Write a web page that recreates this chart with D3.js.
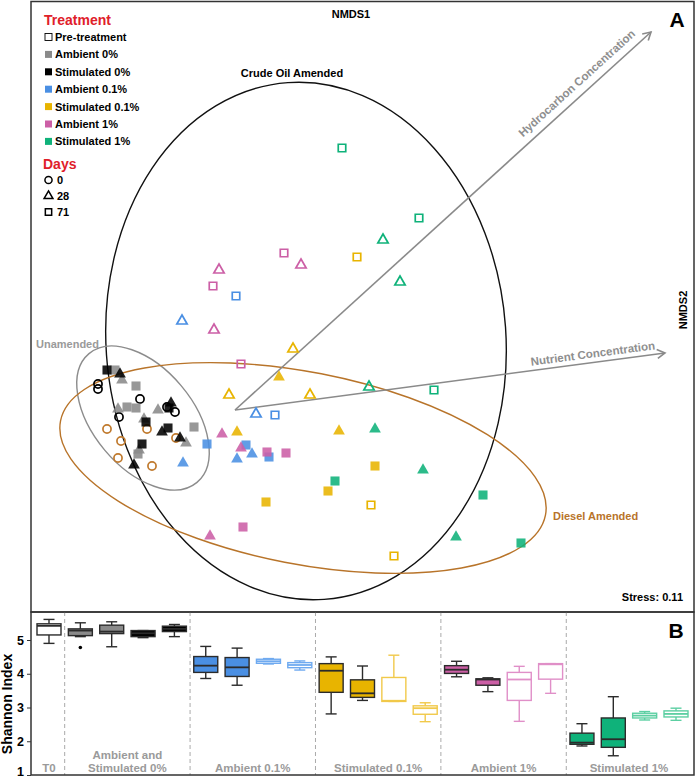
<!DOCTYPE html>
<html><head><meta charset="utf-8">
<script src="https://cdn.jsdelivr.net/npm/d3@7"></script>
<style>
body{margin:0;background:#fff}
svg{display:block;font-family:"Liberation Sans",Arial,Helvetica,sans-serif;font-weight:bold}
</style>
</head><body>
<svg id="chart" width="696" height="780"></svg>
<script>
// ---------------- DATA ----------------
const treatments = ["Pre-treatment","Ambient 0%","Stimulated 0%","Ambient 0.1%","Stimulated 0.1%","Ambient 1%","Stimulated 1%"];
const dayLevels = [0, 28, 71];

// NMDS points: [NMDS1, NMDS2, day, oil]
const preTreatment = [
  [-1.37,0.26,0,"crude"],[-1.37,0.21,0,"crude"],[-0.95,0.11,0,"crude"],
  [-1.16,-0.07,0,"crude"],[-0.68,0.03,0,"crude"],[-0.60,-0.02,0,"crude"],
  [-1.28,-0.19,0,"diesel"],[-0.88,-0.19,0,"diesel"],[-1.14,-0.31,0,"diesel"],
  [-0.59,-0.28,0,"diesel"],[-1.17,-0.48,0,"diesel"],[-0.83,-0.56,0,"diesel"]
];
const ambient0 = [
  [-1.20,0.40,71,"none"],[-0.99,0.24,71,"none"],[-1.08,0.03,71,"none"],
  [-0.99,0.02,71,"none"],[-0.41,-0.17,71,"none"],[-0.97,-0.44,71,"none"],
  [-1.13,0.30,28,"none"],[-1.17,0.01,28,"none"],[-0.77,0.00,28,"none"],
  [-0.91,-0.09,28,"none"],[-0.49,-0.33,28,"none"],[-0.96,-0.40,28,"none"]
];
const stimulated0 = [
  [-1.28,0.40,71,"none"],[-0.66,0.02,71,"none"],[-0.89,-0.12,71,"none"],
  [-0.67,-0.18,71,"none"],[-0.93,-0.34,71,"none"],
  [-1.15,0.36,28,"none"],[-0.64,0.07,28,"none"],[-0.73,-0.22,28,"none"],
  [-0.55,-0.28,28,"none"],[-1.01,-0.55,28,"none"]
];
const ambient01 = [
  [-0.28,-0.34,71,"diesel"],[0.11,-0.35,71,"diesel"],[0.34,-0.47,71,"diesel"],
  [-0.52,-0.53,28,"diesel"],[0.02,-0.49,28,"diesel"],[0.17,-0.44,28,"diesel"],
  [-0.53,0.89,28,"crude"],[0.21,-0.04,28,"crude"],
  [0.01,1.14,71,"crude"],[0.40,-0.05,71,"crude"]
];
const stimulated01 = [
  [0.44,0.33,28,"diesel"],[0.02,-0.22,28,"diesel"],[1.04,-0.21,28,"diesel"],
  [1.40,-0.56,71,"diesel"],[0.93,-0.81,71,"diesel"],[0.31,-0.92,71,"diesel"],
  [0.58,0.61,28,"crude"],[-0.06,0.15,28,"crude"],[0.75,0.15,28,"crude"],
  [1.22,1.53,71,"crude"],[1.36,-0.95,71,"crude"],[1.59,-1.46,71,"crude"]
];
const ambient1 = [
  [-0.13,-0.24,28,"diesel"],[0.06,-0.38,28,"diesel"],[-0.25,-1.26,28,"diesel"],
  [0.32,-0.42,71,"diesel"],[0.51,-0.43,71,"diesel"],[0.08,-1.17,71,"diesel"],
  [-0.16,1.40,28,"crude"],[0.66,1.45,28,"crude"],[-0.21,0.80,28,"crude"],
  [0.49,1.57,71,"crude"],[-0.22,1.24,71,"crude"],[0.06,0.46,71,"crude"]
];
const stimulated1 = [
  [1.40,-0.19,28,"diesel"],[1.88,-0.60,28,"diesel"],[2.21,-1.27,28,"diesel"],
  [1.00,-0.71,71,"diesel"],[2.48,-0.85,71,"diesel"],[2.86,-1.33,71,"diesel"],
  [1.48,1.70,28,"crude"],[1.65,1.28,28,"crude"],[1.34,0.23,28,"crude"],
  [1.07,2.62,71,"crude"],[1.84,1.92,71,"crude"],[1.99,0.20,71,"crude"]
];
const pointSets = [preTreatment, ambient0, stimulated0, ambient01, stimulated01, ambient1, stimulated1];

// Ellipses (NMDS units): centre, semi-axes, rotation (deg)
const ellipseNames = ["Crude Oil Amended","Unamended","Diesel Amended"];
const ellipseCenters = [[0.71,0.69],[-0.92,-0.08],[0.68,-0.58]];
const ellipseRadii = [[2.00,2.59],[0.84,0.50],[2.47,0.96]];
const ellipseAngles = [-4, 50, 11];

// Environmental vectors
const vectorNames = ["Hydrocarbon Concentration","Nutrient Concentration"];
const vectorEnds = [[4.16,3.78],[4.30,0.57]];
const stressValue = 0.11;

// Boxplots (Shannon index)
const boxGroupLabels = [["T0"],["Ambient and","Stimulated 0%"],["Ambient 0.1%"],["Stimulated 0.1%"],["Ambient 1%"],["Stimulated 1%"]];
const boxGroupIndex = [0,1,1,1,1,2,2,2,2,3,3,3,3,4,4,4,4,5,5,5,5];
const boxTreatment  = [0,1,1,2,2,3,3,3,3,4,4,4,4,5,5,5,5,6,6,6,6];
const boxOil = ["none","none","none","none","none","diesel","diesel","crude","crude","diesel","diesel","crude","crude","diesel","diesel","crude","crude","diesel","diesel","crude","crude"];
// [min, q1, median, q3, max]
const boxStats = [
  [4.90,5.15,5.42,5.48,5.61],
  [5.10,5.13,5.28,5.33,5.51],
  [4.80,5.19,5.25,5.44,5.54],
  [5.07,5.10,5.20,5.28,5.28],
  [5.10,5.25,5.33,5.41,5.46],
  [3.86,4.04,4.24,4.51,4.81],
  [3.66,3.92,4.19,4.48,4.76],
  [4.29,4.31,4.37,4.43,4.45],
  [4.11,4.18,4.26,4.33,4.38],
  [2.81,3.45,4.09,4.30,4.50],
  [3.21,3.30,3.42,3.82,4.23],
  [3.18,3.18,3.20,3.89,4.55],
  [2.58,2.80,2.98,3.05,3.14],
  [3.91,4.01,4.12,4.24,4.37],
  [3.47,3.66,3.83,3.85,3.88],
  [2.59,3.21,3.83,4.04,4.22],
  [3.42,3.84,4.28,4.30,4.30],
  [1.86,1.91,1.96,2.24,2.52],
  [1.57,1.82,2.06,2.69,3.32],
  [2.63,2.69,2.76,2.83,2.88],
  [2.62,2.72,2.81,2.90,2.98]
];
const boxOutliers = [[1, 4.78]];
const shannonTicks = [1,2,3,4,5];

// ---------------- STYLE ----------------
const colors = ["#ffffff","#8a8a8a","#000000","#4a8fe3","#e8b400","#cc5fa6","#0fb27a"];
const lightColors = ["#ffffff","#aaaaaa","#333333","#6faaf0","#f1c94a","#e08fc8","#5ccfa2"];
const dieselPre = "#c07a2e";
const redHead = "#e0202a";
const labelGray = "#9a9a9a";

const svg = d3.select("#chart");
const x = d3.scaleLinear().domain([-2.04, 4.59]).range([31, 694]);
const y = d3.scaleLinear().domain([4.09, -2.02]).range([1, 612]);

// ---- Panel A ----
const gA = svg.append("g");
const ellColors = ["#111111","#8c8c8c","#b8742a"];
ellipseNames.forEach((n,i)=>{
  const cx = x(ellipseCenters[i][0]), cy = y(ellipseCenters[i][1]);
  const rx = x(ellipseCenters[i][0]+ellipseRadii[i][0]) - cx;
  const ry = y(ellipseCenters[i][1]-ellipseRadii[i][1]) - cy;
  gA.append("ellipse").attr("cx",cx).attr("cy",cy).attr("rx",rx).attr("ry",ry)
    .attr("transform",`rotate(${ellipseAngles[i]},${cx},${cy})`)
    .attr("fill","none").attr("stroke",ellColors[i]).attr("stroke-width",1.4);
});
vectorNames.forEach((n,i)=>{
  const x0 = x(0), y0 = y(0), x1 = x(vectorEnds[i][0]), y1 = y(vectorEnds[i][1]);
  const ang = Math.atan2(y1-y0, x1-x0);
  gA.append("line").attr("x1",x0).attr("y1",y0).attr("x2",x1).attr("y2",y1)
    .attr("stroke","#8a8a8a").attr("stroke-width",1.6);
  const L = 9, a = Math.PI/6;
  gA.append("path").attr("d",`M${x1-L*Math.cos(ang-a)},${y1-L*Math.sin(ang-a)}L${x1},${y1}L${x1-L*Math.cos(ang+a)},${y1-L*Math.sin(ang+a)}`)
    .attr("fill","none").attr("stroke","#8a8a8a").attr("stroke-width",1.6);
  const back = i===0 ? 13 : 9;
  const off = i===0 ? 8 : 5;
  const ux = Math.cos(ang), uy = Math.sin(ang);
  const tx = x1 - back*ux + off*uy, ty = y1 - back*uy - off*ux;
  gA.append("text").attr("x",tx).attr("y",ty).attr("text-anchor","end")
    .attr("transform",`rotate(${ang*180/Math.PI},${tx},${ty})`)
    .attr("font-size",11.5).attr("fill","#8f8f8f").text(n);
});
const symFor = d => d===0 ? d3.symbolCircle : d===28 ? d3.symbolTriangle : d3.symbolSquare;
pointSets.forEach((set,ti)=>{
  set.forEach(p=>{
    const open = p[3]==="crude" || ti===0;
    let col = colors[ti];
    if (ti===0) col = p[3]==="diesel" ? dieselPre : "#000";
    let size = p[2]===0 ? 52 : p[2]===28 ? (open?46:60) : (open?56:82);
    gA.append("path").attr("d", d3.symbol().type(symFor(p[2])).size(size)())
      .attr("transform",`translate(${x(p[0])},${y(p[1])})`)
      .attr("fill", open ? "none" : col)
      .attr("fill-opacity", 0.88)
      .attr("stroke", open ? col : "none")
      .attr("stroke-width", open ? 1.7 : 0);
  });
});
gA.append("text").attr("x",x(0.57)).attr("y",y(3.33)).attr("text-anchor","middle").attr("font-size",11).attr("fill","#000").text(ellipseNames[0]);
gA.append("text").attr("x",x(-1.99)).attr("y",y(0.62)).attr("font-size",11).attr("fill",labelGray).text(ellipseNames[1]);
gA.append("text").attr("x",x(3.18)).attr("y",y(-1.10)).attr("font-size",11).attr("fill","#b8742a").text(ellipseNames[2]);

gA.append("text").attr("x",351).attr("y",18).attr("text-anchor","middle").attr("font-size",11).text("NMDS1");
gA.append("text").attr("transform","translate(687,310) rotate(-90)").attr("text-anchor","middle").attr("font-size",11).text("NMDS2");
gA.append("text").attr("x",683).attr("y",601).attr("text-anchor","end").attr("font-size",11).text("Stress: " + stressValue.toFixed(2));
gA.append("text").attr("x",677).attr("y",27).attr("text-anchor","middle").attr("font-size",21).text("A");

const lg = gA.append("g");
lg.append("text").attr("x",44).attr("y",25).attr("font-size",14).attr("fill",redHead).text("Treatment");
treatments.forEach((t,i)=>{
  const cy = 37 + i*17.4;
  lg.append("rect").attr("x",45).attr("y",cy-3.5).attr("width",7).attr("height",7)
    .attr("fill", i===0 ? "#fff" : colors[i]).attr("stroke", i===0 ? "#000":"none").attr("stroke-width",0.9);
  lg.append("text").attr("x",55).attr("y",cy+4).attr("font-size",11).text(t);
});
lg.append("text").attr("x",43).attr("y",169).attr("font-size",14).attr("fill",redHead).text("Days");
dayLevels.forEach((d,i)=>{
  const cy = 180 + i*16;
  lg.append("path").attr("d", d3.symbol().type(symFor(d)).size(d===28?34:40)())
    .attr("transform",`translate(48.5,${cy})`).attr("fill","none").attr("stroke","#000").attr("stroke-width",1.5);
  lg.append("text").attr("x",57).attr("y",cy+4).attr("font-size",11).text(d);
});

svg.append("rect").attr("x",31).attr("y",1.5).attr("width",663).attr("height",610.5)
  .attr("fill","none").attr("stroke","#333").attr("stroke-width",1.5);

// ---- Panel B ----
const yb = d3.scaleLinear().domain([1, 5.83]).range([775, 612]);
const xb = d3.scaleLinear().domain([0, 20]).range([49, 676]);
const gB = svg.append("g");
for (let i=0;i<20;i++){
  if (boxGroupIndex[i]!==boxGroupIndex[i+1]){
    const sx = xb(i+0.5);
    gB.append("line").attr("x1",sx).attr("x2",sx).attr("y1",612).attr("y2",775)
      .attr("stroke","#aaa").attr("stroke-width",1).attr("stroke-dasharray","4,3");
  }
}
boxGroupLabels.forEach((lines,g)=>{
  const idx = boxGroupIndex.map((v,i)=>v===g?i:-1).filter(v=>v>=0);
  const cx = xb((idx[0]+idx[idx.length-1])/2);
  lines.forEach((l,k)=>{
    gB.append("text").attr("x",cx).attr("y",772 - (lines.length-1-k)*13.5)
      .attr("text-anchor","middle").attr("font-size",11.5).attr("fill",labelGray).text(l);
  });
});
const bw = 24, cw = 11;
boxStats.forEach((s,i)=>{
  const cx = xb(i);
  const ti = boxTreatment[i];
  const open = boxOil[i]==="crude";
  const stroke = open ? lightColors[ti] : "#2b2b2b";
  const fill = open ? "#fff" : colors[ti];
  const g = gB.append("g").attr("stroke",stroke).attr("stroke-width",1.4);
  g.append("line").attr("x1",cx).attr("x2",cx).attr("y1",yb(s[4])).attr("y2",yb(s[3]));
  g.append("line").attr("x1",cx).attr("x2",cx).attr("y1",yb(s[1])).attr("y2",yb(s[0]));
  g.append("line").attr("x1",cx-cw/2).attr("x2",cx+cw/2).attr("y1",yb(s[4])).attr("y2",yb(s[4]));
  g.append("line").attr("x1",cx-cw/2).attr("x2",cx+cw/2).attr("y1",yb(s[0])).attr("y2",yb(s[0]));
  g.append("rect").attr("x",cx-bw/2).attr("y",yb(s[3])).attr("width",bw).attr("height",Math.max(1,yb(s[1])-yb(s[3])))
    .attr("fill",fill);
  g.append("line").attr("x1",cx-bw/2).attr("x2",cx+bw/2).attr("y1",yb(s[2])).attr("y2",yb(s[2])).attr("stroke-width",1.8);
});
boxOutliers.forEach(o=>{
  gB.append("circle").attr("cx",xb(o[0])).attr("cy",yb(o[1])).attr("r",1.8).attr("fill","#000");
});
const ax = gB.append("g").attr("transform","translate(31,0)")
  .call(d3.axisLeft(yb).tickValues(shannonTicks).tickFormat(d3.format("d")).tickSize(4).tickPadding(3));
ax.select(".domain").remove();
ax.selectAll("line").attr("stroke","#333");
ax.selectAll("text").attr("font-size",12.5).attr("font-weight","bold").attr("font-family","Liberation Sans, Arial, sans-serif").attr("fill","#000")
  .attr("dy", d => d===1 ? "0.05em" : "0.32em");
gB.append("text").attr("transform","translate(12,704) rotate(-90)").attr("text-anchor","middle").attr("font-size",14).text("Shannon Index");
gB.append("text").attr("x",676).attr("y",638).attr("text-anchor","middle").attr("font-size",21).text("B");
svg.append("rect").attr("x",31).attr("y",612).attr("width",663).attr("height",163)
  .attr("fill","none").attr("stroke","#333").attr("stroke-width",1.5);
</script>
</body></html>
